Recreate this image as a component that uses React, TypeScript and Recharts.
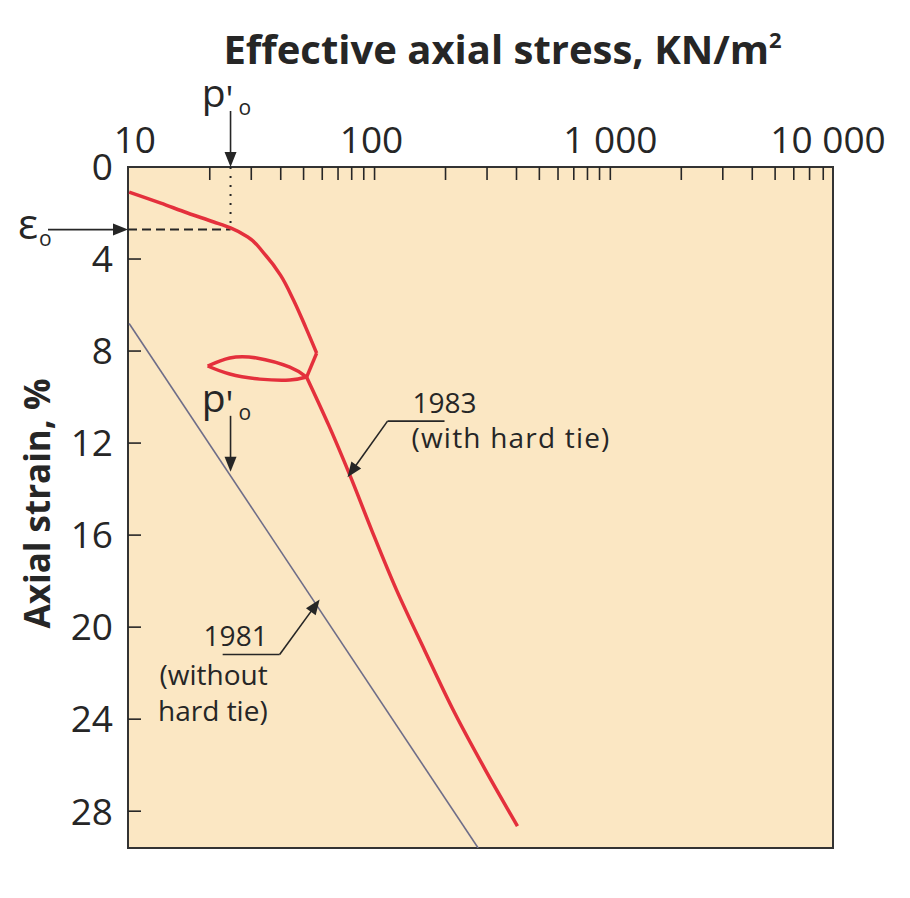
import React from "react";
import { ComposedChart, Line, XAxis, YAxis, CartesianGrid, ReferenceLine, ReferenceDot, ReferenceArea } from "recharts";

// 1983 curve (with hard tie)
const loadStress = [9.1, 12.4, 16.1, 20.8, 24.5, 29.0, 33.9, 39.9, 45.3, 51.0, 56.8];
const loadStrain = [1.09, 1.57, 2.0, 2.39, 2.65, 3.04, 3.74, 4.7, 5.78, 6.96, 8.09];
const kinkStress = [56.8, 51.5];
const kinkStrain = [8.09, 9.13];
const loopUpStress = [51.5, 43.7, 31.6, 24.3, 19.6];
const loopUpStrain = [9.13, 8.7, 8.3, 8.3, 8.65];
const loopDownStress = [19.6, 24.3, 32.6, 43.7, 51.5];
const loopDownStrain = [8.65, 9.0, 9.22, 9.26, 9.13];
const tailStress = [51.5, 63.9, 79.2, 97.2, 124, 163, 218, 295, 404];
const tailStrain = [9.13, 11.22, 13.48, 15.78, 18.39, 21.0, 23.7, 26.2, 28.65];

// 1981 line (without hard tie)
const line1981Stress = [9.1, 275];
const line1981Strain = [6.8, 29.6];

const labelTicks = [10, 100, 1000, 8800];
const labelTexts = ["10", "100", "1 000", "10 000"];
const minorTicks = [20, 30, 40, 50, 60, 70, 80, 90, 100, 200, 300, 400, 500, 600, 700, 800, 900, 1000, 2000, 3000, 4000, 5000, 6000, 7000, 8000];
const strainTicks = [0, 4, 8, 12, 16, 20, 24, 28];

const p0 = 24.5;
const eps0 = 2.72;

const toRows = (xs: number[], ys: number[]) => xs.map((s, i) => ({ stress: s, strain: ys[i] }));

const INK = "#262626";
const FONT = "'Open Sans', sans-serif";

function StressTick({ x, y, payload }: any) {
  const v = payload.value;
  const i = labelTicks.indexOf(v);
  const shift = v === 8800 ? -5 : v === 10 ? -4 : v === 100 ? -3 : 0;
  return (
    <g>
      {minorTicks.includes(v) && <line x1={x} y1={y} x2={x} y2={y + 13} stroke={INK} strokeWidth={1.6} />}
      {i >= 0 && (
        <text x={x + shift} y={y - 14} textAnchor="middle" fontSize={37} fill={INK} fontFamily={FONT}>
          {labelTexts[i]}
        </text>
      )}
    </g>
  );
}

function StrainTick({ x, y, payload }: any) {
  const v = payload.value;
  return (
    <g>
      {v > 0 && <line x1={x} y1={y} x2={x + 13} y2={y} stroke={INK} strokeWidth={1.6} />}
      <text x={x - 15} y={y} dy="0.36em" textAnchor="end" fontSize={37} fill={INK} fontFamily={FONT}>
        {v}
      </text>
    </g>
  );
}

function Arrow({ x1, y1, x2, y2 }: { x1: number; y1: number; x2: number; y2: number }) {
  const a = Math.atan2(y2 - y1, x2 - x1);
  const L = 15;
  const W = 6;
  const bx = x2 - L * Math.cos(a);
  const by = y2 - L * Math.sin(a);
  const pts = `${x2},${y2} ${bx - W * Math.sin(a)},${by + W * Math.cos(a)} ${bx + W * Math.sin(a)},${by - W * Math.cos(a)}`;
  return (
    <g>
      <line x1={x1} y1={y1} x2={bx + Math.cos(a)} y2={by + Math.sin(a)} stroke={INK} strokeWidth={1.6} />
      <polygon points={pts} fill={INK} />
    </g>
  );
}

function POMark({ cx, cy }: any) {
  return (
    <g fontFamily={FONT} fill={INK}>
      <Arrow x1={cx} y1={cy - 56} x2={cx} y2={cy} />
      <text x={cx - 5} y={cy - 60} textAnchor="end" fontSize={39}>p</text>
      <text x={cx - 1} y={cy - 55} textAnchor="middle" fontSize={36}>'</text>
      <text x={cx + 8} y={cy - 52} fontSize={21}>o</text>
    </g>
  );
}

function EpsMark({ cx, cy }: any) {
  return (
    <g fontFamily={FONT} fill={INK}>
      <Arrow x1={cx - 80} y1={cy} x2={cx} y2={cy} />
      <text x={cx - 110} y={cy + 9} fontSize={42}>ε</text>
      <text x={cx - 89} y={cy + 16} fontSize={21}>o</text>
    </g>
  );
}

function Label1983({ cx, cy }: any) {
  return (
    <g fontFamily={FONT} fill={INK} fontSize={28}>
      <Arrow x1={cx + 40} y1={cy - 56} x2={cx} y2={cy} />
      <line x1={cx + 40} y1={cy - 56} x2={cx + 97} y2={cy - 56} stroke={INK} strokeWidth={1.6} />
      <text x={cx + 65} y={cy - 64}>1983</text>
      <text x={cx + 64} y={cy - 29} letterSpacing={1.2}>(with hard tie)</text>
    </g>
  );
}

function Label1981({ cx, cy }: any) {
  return (
    <g fontFamily={FONT} fill={INK} fontSize={28} textAnchor="end">
      <Arrow x1={cx - 40} y1={cy + 55} x2={cx} y2={cy} />
      <line x1={cx - 97} y1={cy + 55} x2={cx - 40} y2={cy + 55} stroke={INK} strokeWidth={1.6} />
      <text x={cx - 52} y={cy + 46}>1981</text>
      <text x={cx - 52} y={cy + 85}>(without</text>
      <text x={cx - 52} y={cy + 121}>hard tie)</text>
    </g>
  );
}

const TitleLabel = ({ viewBox }: any) => (
  <text x={viewBox.x + viewBox.width / 2 + 22} y={64} textAnchor="middle" fontSize={40} fontWeight={700} fill={INK} fontFamily={FONT}>
    Effective axial stress, KN/m<tspan dy={-16} fontSize={22}>2</tspan>
  </text>
);

const YTitle = ({ viewBox }: any) => {
  const x = 50;
  const y = viewBox.y + viewBox.height / 2 - 4;
  return (
    <text x={x} y={y} transform={`rotate(-90, ${x}, ${y})`} textAnchor="middle" fontSize={35} fontWeight={700} fill={INK} fontFamily={FONT}>
      Axial strain, %
    </text>
  );
};

const RED = "#E4303C";

export default function App() {
  return (
    <div style={{ position: "absolute", left: 0, top: 0, background: "#fff" }}>
      <ComposedChart width={910} height={898} margin={{ top: 0, right: 77, bottom: 50, left: 0 }}>
        <CartesianGrid fill="#FBE7C3" horizontal={false} vertical={false} />
        <XAxis
          dataKey="stress"
          type="number"
          scale="log"
          orientation="top"
          domain={[9, 8800]}
          allowDataOverflow
          ticks={[10, ...minorTicks, 8800]}
          interval={0}
          height={167}
          tickSize={0}
          tickMargin={0}
          tickLine={false}
          axisLine={false}
          tick={<StressTick />}
          label={<TitleLabel />}
        />
        <YAxis
          type="number"
          domain={[0, 29.6]}
          reversed
          allowDataOverflow
          ticks={strainTicks}
          interval={0}
          width={128}
          tickSize={0}
          tickMargin={0}
          tickLine={false}
          axisLine={false}
          tick={<StrainTick />}
          label={<YTitle />}
        />
        <ReferenceArea x1={9} x2={8800} y1={0} y2={29.6} fill="none" stroke="#333" strokeWidth={2} ifOverflow="visible" />
        <ReferenceLine segment={[{ x: p0, y: 0 }, { x: p0, y: eps0 }]} stroke={INK} strokeWidth={2} strokeDasharray="2 7" ifOverflow="visible" />
        <ReferenceLine segment={[{ x: 9, y: eps0 }, { x: p0, y: eps0 }]} stroke={INK} strokeWidth={2} strokeDasharray="9 5" ifOverflow="visible" />
        <Line data={toRows(line1981Stress, line1981Strain)} dataKey="strain" type="linear" stroke="#6E6D88" strokeWidth={1.6} dot={false} isAnimationActive={false} />
        <Line data={toRows(loadStress, loadStrain)} dataKey="strain" type="monotoneY" stroke={RED} strokeWidth={3.5} dot={false} isAnimationActive={false} />
        <Line data={toRows(kinkStress, kinkStrain)} dataKey="strain" type="linear" stroke={RED} strokeWidth={3.5} dot={false} isAnimationActive={false} />
        <Line data={toRows(loopUpStress, loopUpStrain)} dataKey="strain" type="natural" stroke={RED} strokeWidth={3.5} dot={false} isAnimationActive={false} />
        <Line data={toRows(loopDownStress, loopDownStrain)} dataKey="strain" type="natural" stroke={RED} strokeWidth={3.5} dot={false} isAnimationActive={false} />
        <Line data={toRows(tailStress, tailStrain)} dataKey="strain" type="monotoneY" stroke={RED} strokeWidth={3.5} dot={false} isAnimationActive={false} />
        <ReferenceDot x={p0} y={0} ifOverflow="visible" shape={(p: any) => <POMark cx={p.cx} cy={p.cy} />} />
        <ReferenceDot x={p0} y={13.25} ifOverflow="visible" shape={(p: any) => <POMark cx={p.cx} cy={p.cy} />} />
        <ReferenceDot x={9} y={eps0} ifOverflow="visible" shape={(p: any) => <EpsMark cx={p.cx} cy={p.cy} />} />
        <ReferenceDot x={76.8} y={13.48} ifOverflow="visible" shape={(p: any) => <Label1983 cx={p.cx} cy={p.cy} />} />
        <ReferenceDot x={58.5} y={18.8} ifOverflow="visible" shape={(p: any) => <Label1981 cx={p.cx} cy={p.cy} />} />
      </ComposedChart>
    </div>
  );
}
